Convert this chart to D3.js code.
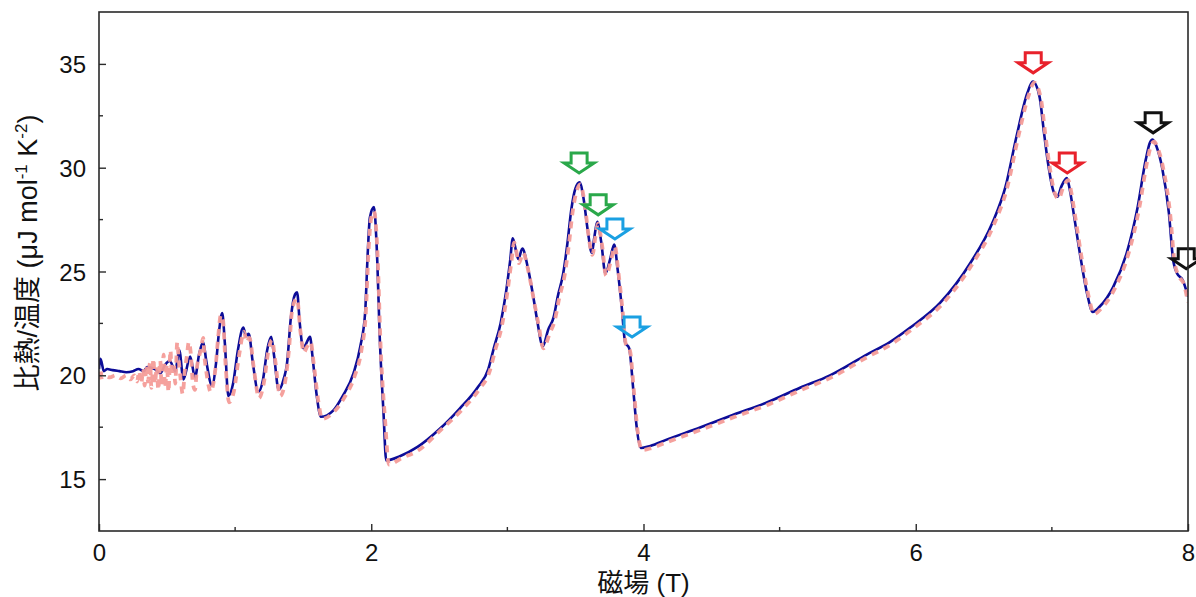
<!DOCTYPE html>
<html>
<head>
<meta charset="utf-8">
<script src="https://cdn.jsdelivr.net/npm/d3@7"></script>
<style>
  body { margin: 0; background: #fff; }
  svg text { font-family: "Liberation Sans", Arial, "Noto Sans CJK JP", sans-serif; fill: #111; }
</style>
</head>
<body>
<div id="chart"></div>
<script>
// heat capacity / T versus field, two sweeps
const fieldBlue = [0, 0.01, 0.02, 0.035, 0.06, 0.10, 0.15, 0.20, 0.25, 0.29, 0.33, 0.353, 0.41, 0.45, 0.485, 0.52, 0.56, 0.59, 0.62, 0.67, 0.705, 0.735, 0.765, 0.79, 0.83, 0.86, 0.88, 0.905, 0.925, 0.95, 0.985, 1.02, 1.06, 1.08, 1.10, 1.13, 1.17, 1.205, 1.235, 1.265, 1.285, 1.32, 1.36, 1.38, 1.41, 1.44, 1.455, 1.475, 1.50, 1.52, 1.55, 1.57, 1.60, 1.63, 1.72, 1.79, 1.87, 1.92, 1.955, 1.975, 1.99, 2.02, 2.04, 2.065, 2.09, 2.11, 2.21, 2.34, 2.50, 2.65, 2.78, 2.86, 2.90, 2.95, 2.99, 3.02, 3.04, 3.08, 3.11, 3.15, 3.19, 3.22, 3.26, 3.30, 3.34, 3.37, 3.41, 3.44, 3.47, 3.50, 3.53, 3.56, 3.59, 3.62, 3.64, 3.66, 3.69, 3.72, 3.755, 3.785, 3.81, 3.84, 3.865, 3.895, 3.925, 3.95, 3.98, 4.05, 4.17, 4.42, 4.66, 4.91, 5.15, 5.37, 5.64, 5.81, 5.96, 6.18, 6.40, 6.56, 6.66, 6.74, 6.82, 6.86, 6.91, 6.94, 6.97, 7.01, 7.04, 7.07, 7.11, 7.13, 7.16, 7.21, 7.26, 7.30, 7.35, 7.45, 7.55, 7.63, 7.69, 7.72, 7.74, 7.77, 7.81, 7.86, 7.89, 7.92, 7.96, 8.0];
const heatBlue = [20.3, 20.8, 20.6, 20.2, 20.3, 20.25, 20.2, 20.15, 20.2, 20.3, 20.2, 20.4, 20.3, 20.1, 20.5, 20.7, 20.2, 21.2, 19.8, 20.9, 19.9, 21.0, 21.6, 20.6, 19.5, 20.6, 22.0, 23.0, 21.5, 19.0, 19.6, 21.2, 22.3, 21.9, 22.0, 20.6, 19.2, 19.8, 21.2, 21.85, 21.0, 19.3, 19.9, 20.5, 22.8, 23.9, 24.0, 22.5, 21.3, 21.5, 21.85, 20.8, 19.0, 18.0, 18.3, 19.0, 20.1, 21.4, 23.0, 26.0, 27.6, 28.1, 26.2, 21.4, 18.2, 15.9, 16.1, 16.55, 17.4, 18.4, 19.4, 20.3, 21.3, 22.5, 24.0, 25.5, 26.6, 25.6, 26.1, 25.2, 23.8, 22.6, 21.4, 22.2, 22.8, 23.8, 24.9, 26.3, 28.0, 29.0, 29.3, 28.5, 27.0, 25.9, 26.7, 27.4, 26.4, 24.9, 25.6, 26.3, 25.1, 23.3, 21.6, 21.3, 19.3, 17.5, 16.5, 16.6, 16.9, 17.5, 18.1, 18.7, 19.4, 20.0, 21.0, 21.6, 22.3, 23.5, 25.4, 27.3, 29.1, 31.5, 33.6, 34.15, 33.4, 31.8, 30.3, 28.9, 28.6, 29.1, 29.5, 29.0, 27.8, 25.7, 23.9, 23.05, 23.3, 24.25, 25.9, 28.1, 30.4, 31.2, 31.35, 31.0, 30.0, 27.8, 25.6, 24.9, 24.6, 23.8];

const fieldPink = [0, 0.01, 0.02, 0.04, 0.08, 0.12, 0.16, 0.20, 0.23, 0.26, 0.28, 0.295, 0.31, 0.325, 0.335, 0.35, 0.36, 0.375, 0.385, 0.40, 0.41, 0.425, 0.435, 0.45, 0.46, 0.475, 0.485, 0.50, 0.51, 0.525, 0.535, 0.55, 0.56, 0.575, 0.585, 0.60, 0.615, 0.63, 0.645, 0.66, 0.675, 0.69, 0.705, 0.72, 0.735, 0.75, 0.765, 0.775, 0.79, 0.805, 0.82, 0.84, 0.855, 0.875, 0.895, 0.91, 0.93, 0.955, 0.99, 1.03, 1.065, 1.085, 1.105, 1.14, 1.175, 1.21, 1.245, 1.27, 1.295, 1.33, 1.37, 1.395, 1.42, 1.455, 1.48, 1.505, 1.53, 1.555, 1.58, 1.61, 1.64, 1.72, 1.80, 1.88, 1.93, 1.96, 1.98, 2.00, 2.02, 2.045, 2.07, 2.10, 2.13, 2.22, 2.35, 2.50, 2.66, 2.79, 2.87, 2.91, 2.96, 3.00, 3.03, 3.05, 3.085, 3.115, 3.155, 3.195, 3.23, 3.265, 3.31, 3.35, 3.38, 3.42, 3.45, 3.48, 3.51, 3.535, 3.565, 3.595, 3.625, 3.645, 3.665, 3.695, 3.725, 3.76, 3.79, 3.815, 3.845, 3.87, 3.90, 3.93, 3.955, 3.99, 4.06, 4.18, 4.43, 4.67, 4.92, 5.16, 5.38, 5.65, 5.82, 5.97, 6.19, 6.41, 6.57, 6.67, 6.75, 6.83, 6.87, 6.92, 6.95, 6.98, 7.02, 7.05, 7.08, 7.12, 7.14, 7.17, 7.22, 7.27, 7.31, 7.36, 7.46, 7.56, 7.64, 7.70, 7.73, 7.75, 7.78, 7.82, 7.87, 7.90, 7.93, 7.97, 8.0];
const heatPink = [19.8, 20.3, 19.9, 20.0, 19.9, 20.0, 19.85, 20.0, 19.8, 20.0, 19.7, 20.2, 19.6, 20.3, 19.5, 20.5, 19.7, 20.6, 19.4, 20.8, 19.6, 20.4, 19.3, 20.7, 19.5, 21.0, 19.4, 20.5, 19.2, 21.2, 20.0, 20.6, 19.6, 21.6, 20.8, 19.8, 19.1, 20.2, 20.9, 21.6, 21.0, 19.6, 19.3, 20.4, 20.9, 21.3, 21.8, 20.9, 20.1, 19.5, 19.2, 19.6, 20.3, 21.8, 22.9, 22.7, 20.5, 18.7, 19.2, 21.0, 22.1, 21.6, 21.8, 20.2, 18.9, 19.6, 21.2, 21.7, 20.7, 19.0, 19.8, 21.2, 23.2, 23.7, 22.1, 21.1, 21.4, 21.6, 20.4, 18.8, 17.9, 18.2, 18.9, 20.0, 21.3, 23.0, 26.0, 27.6, 27.9, 26.0, 21.2, 18.0, 15.7, 16.0, 16.4, 17.3, 18.3, 19.3, 20.2, 21.2, 22.4, 24.0, 25.5, 26.4, 25.4, 25.9, 25.0, 23.6, 22.4, 21.3, 22.0, 22.7, 23.7, 24.8, 26.2, 27.9, 28.9, 29.2, 28.4, 26.8, 25.8, 26.6, 27.3, 26.3, 24.8, 25.5, 26.2, 25.0, 23.2, 21.5, 21.2, 19.2, 17.4, 16.4, 16.5, 16.8, 17.4, 18.0, 18.6, 19.3, 19.9, 20.9, 21.5, 22.2, 23.4, 25.3, 27.2, 29.0, 31.4, 33.5, 34.1, 33.3, 31.7, 30.2, 28.8, 28.5, 29.0, 29.4, 28.9, 27.7, 25.6, 23.8, 22.95, 23.2, 24.15, 25.8, 28.0, 30.3, 31.1, 31.25, 30.9, 29.9, 27.7, 25.5, 24.8, 24.4, 23.5];

// peak markers: field and value at the arrow tip
const arrowField = [3.527, 3.667, 3.79, 3.916, 6.863, 7.113, 7.744, 7.987];
const arrowValue = [29.75, 27.73, 26.57, 21.85, 34.57, 29.75, 31.68, 25.13];
const arrowColor = ["#2aa84a", "#2aa84a", "#1aa0e2", "#1aa0e2", "#e8212b", "#e8212b", "#111111", "#111111"];

const xTicks = [0, 2, 4, 6, 8];
const xMinor = [1, 3, 5, 7];
const yTicks = [15, 20, 25, 30, 35];
const yMinor = [17.5, 22.5, 27.5, 32.5];

const width = 1196, height = 597;
const margin = { top: 12, right: 8, bottom: 66, left: 99 };

const svg = d3.select("#chart").append("svg")
  .attr("width", width)
  .attr("height", height);

const x = d3.scaleLinear().domain([0, 8]).range([margin.left, width - margin.right]);
const y = d3.scaleLinear().domain([12.5, 37.5]).range([height - margin.bottom, margin.top]);

const plotW = width - margin.left - margin.right;
const plotH = height - margin.top - margin.bottom;

svg.append("defs").append("clipPath").attr("id", "plot-clip")
  .append("rect")
  .attr("x", margin.left).attr("y", margin.top)
  .attr("width", plotW).attr("height", plotH);

// lines
const line = d3.line()
  .x(d => x(d[0]))
  .y(d => y(d[1]))
  .curve(d3.curveMonotoneX);

const blueData = fieldBlue.map((f, i) => [f, heatBlue[i]]);
const pinkData = fieldPink.map((f, i) => [f, heatPink[i]]);

const lines = svg.append("g").attr("clip-path", "url(#plot-clip)");

lines.append("path")
  .datum(blueData)
  .attr("d", line)
  .attr("fill", "none")
  .attr("stroke", "#0c0c98")
  .attr("stroke-width", 2.6)
  .attr("stroke-linejoin", "round");

lines.append("path")
  .datum(pinkData)
  .attr("d", line)
  .attr("fill", "none")
  .attr("stroke", "#f49c98")
  .attr("stroke-opacity", 0.95)
  .attr("stroke-width", 3.8)
  .attr("stroke-dasharray", "7,6")
  .attr("stroke-linejoin", "round");

// arrows (hollow, pointing down at the peaks)
const arrowPath = "M-8,-20L8,-20L8,-10L15,-10L0,0L-15,-10L-8,-10Z";
svg.append("g")
  .selectAll("path")
  .data(arrowField)
  .join("path")
  .attr("d", arrowPath)
  .attr("transform", (d, i) => `translate(${x(d)},${y(arrowValue[i])})`)
  .attr("fill", "none")
  .attr("stroke", (d, i) => arrowColor[i])
  .attr("stroke-width", 3)
  .attr("stroke-linejoin", "miter");

// frame
svg.append("rect")
  .attr("x", margin.left).attr("y", margin.top)
  .attr("width", plotW).attr("height", plotH)
  .attr("fill", "none")
  .attr("stroke", "#2a2a2a")
  .attr("stroke-width", 1.6);

// axes, ticks inward
const xAxis = svg.append("g")
  .attr("transform", `translate(0,${height - margin.bottom})`)
  .call(d3.axisBottom(x).tickValues(xTicks).tickSize(-7).tickPadding(13).tickFormat(d3.format("d")));
xAxis.append("g").selectAll("line").data(xMinor).join("line")
  .attr("x1", d => x(d)).attr("x2", d => x(d))
  .attr("y1", 0).attr("y2", -4)
  .attr("stroke", "#2a2a2a").attr("stroke-width", 1.4);

const yAxis = svg.append("g")
  .attr("transform", `translate(${margin.left},0)`)
  .call(d3.axisLeft(y).tickValues(yTicks).tickSize(-7).tickPadding(14).tickFormat(d3.format("d")));
yAxis.append("g").selectAll("line").data(yMinor).join("line")
  .attr("y1", d => y(d)).attr("y2", d => y(d))
  .attr("x1", 0).attr("x2", 4)
  .attr("stroke", "#2a2a2a").attr("stroke-width", 1.4);

[xAxis, yAxis].forEach(ax => {
  ax.select(".domain").remove();
  ax.selectAll(".tick line").attr("stroke", "#2a2a2a").attr("stroke-width", 1.4);
  ax.selectAll(".tick text").style("font-size", "24px").attr("fill", "#111");
});
yAxis.selectAll(".tick text").attr("x", -13).attr("dy", "0.36em");

// axis titles
svg.append("text")
  .attr("x", x(4))
  .attr("y", 592)
  .attr("text-anchor", "middle")
  .style("font-size", "26px")
  .text("磁場 (T)");

const yTitle = svg.append("text")
  .attr("transform", "translate(37,253) rotate(-90)")
  .attr("text-anchor", "middle")
  .style("font-size", "27px");
yTitle.append("tspan").text("比熱/温度 (μJ mol");
yTitle.append("tspan").attr("dy", -10).style("font-size", "17px").text("-1");
yTitle.append("tspan").attr("dy", 10).text(" K");
yTitle.append("tspan").attr("dy", -10).style("font-size", "17px").text("-2");
yTitle.append("tspan").attr("dy", 10).text(")");
</script>
</body>
</html>
